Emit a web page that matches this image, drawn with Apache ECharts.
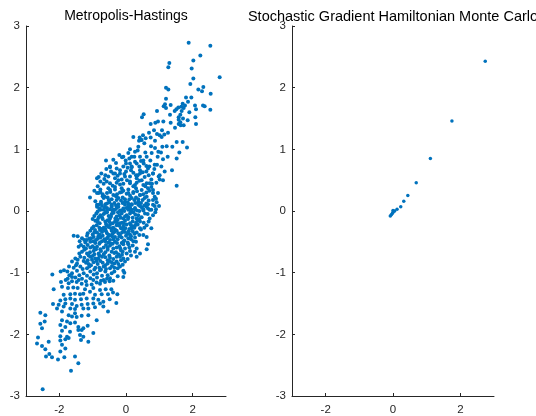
<!DOCTYPE html>
<html>
<head>
<meta charset="utf-8">
<script src="https://cdn.jsdelivr.net/npm/echarts@6/dist/echarts.min.js"></script>
<style>
  html, body { margin: 0; padding: 0; background: #fff; }
  #chart { width: 536px; height: 416px; }
</style>
</head>
<body>
<div id="chart"></div>
<script>
// Panel titles
const panelTitles = ['Metropolis-Hastings', 'Stochastic Gradient Hamiltonian Monte Carlo'];

// Axis ticks shared by both panels
const axisRange = [-3, 3];
const xTickValues = [-2, 0, 2];
const yTickStep = 1;

// Metropolis-Hastings samples [x, y]
const mhSamples = [
  // upper tail
  [1.88,2.73],[2.53,2.68],[2.23,2.52],[2.02,2.44],[1.30,2.40],[1.27,2.33],[1.97,2.31],[2.81,2.17],
  [2.02,2.15],[1.93,2.06],[1.20,2.00],[1.27,1.97],[2.32,2.01],[2.17,1.97],[2.28,1.94],[2.54,1.90],
  [1.80,1.84],[1.96,1.84],[1.20,1.82],[1.86,1.77],[1.70,1.74],[1.17,1.73],[1.13,1.70],[2.07,1.71],
  [2.31,1.71],[2.36,1.70],[1.77,1.71],[1.66,1.69],[1.34,1.72],[1.57,1.68],[1.73,1.67],[1.20,1.67],
  [1.51,1.65],[2.10,1.65],[2.53,1.64],[0.93,1.62],[1.67,1.62],[1.90,1.60],[1.46,1.62],[0.53,1.57],
  [1.32,1.56],[1.63,1.56],[0.48,1.52],[1.58,1.52],[2.08,1.52],[1.71,1.50],[0.96,1.45],[1.12,1.45],
  [0.88,1.43],[1.58,1.48],[1.63,1.44],[1.85,1.47],[1.34,1.43],[0.74,1.41],[1.58,1.41],[1.64,1.39],
  [1.73,1.39],[2.10,1.41],[1.47,1.35],[0.84,1.31],[1.08,1.31],[1.26,1.27],[0.69,1.27],[0.51,1.23],
  [0.93,1.25],[1.01,1.23],[1.15,1.24],[0.41,1.19],[0.59,1.18],[0.74,1.19],[1.07,1.20],[0.45,1.15],
  [0.39,1.14],[0.87,1.14],[1.52,1.12],[1.70,1.12],
  // upper body
  [1.83,1.03],[1.39,1.04],[1.60,0.95],[1.52,0.85],[1.25,0.88],[1.09,1.04],[0.97,0.96],[0.87,1.02],
  [0.77,0.94],[1.11,0.84],[1.38,0.66],[1.52,0.41],[1.16,0.64],[0.93,0.75],[1.06,0.72],[1.11,0.50],
  [0.98,0.56],[0.81,0.61],[0.66,0.69],[0.53,0.77],[0.42,0.88],[0.62,0.88],[0.37,1.04],[0.47,1.15],
  [0.22,1.20],[0.27,0.96],[0.17,0.88],[0.07,0.94],[-0.08,0.88],[-0.20,0.91],[0.00,0.77],[0.17,0.72],
  [0.32,0.77],[0.42,0.66],[0.30,0.58],[0.47,0.50],[0.62,0.45],[0.76,0.39],[-0.38,0.83],[-0.48,0.72],
  [-0.59,0.68],[-0.74,0.61],[-0.87,0.53],[-0.77,0.48],[-0.53,0.56],[-0.33,0.61],[-0.18,0.66],[-0.23,0.50],
  [-0.03,0.56],[0.12,0.48],[0.27,0.42],[-0.87,0.29],[-0.77,0.31],[-1.08,0.22],[-0.64,0.23],[-0.48,0.34],
  [-0.33,0.39],[-0.13,0.31],[0.07,0.29],[0.22,0.31],[0.42,0.26],[0.62,0.23],[0.81,0.18],[0.99,0.08],
  [-0.28,0.18],[-0.57,0.12],[-0.82,0.10],[-0.03,0.15],[0.17,0.10],[0.37,0.15],[0.66,0.11],[0.81,0.34],
  [0.96,0.29],[0.86,0.23],[-0.43,0.07],
  [-0.01,0.82],[0.12,0.77],[0.27,0.80],[0.52,0.82],[0.73,0.82],[-0.48,0.71],[-0.28,0.69],[-0.08,0.72],
  [0.17,0.71],[0.40,0.72],[0.61,0.73],[0.86,0.75],
  [-0.82,0.55],[-0.62,0.58],[-0.38,0.61],[-0.18,0.61],[0.00,0.64],[0.22,0.62],[0.42,0.61],[0.61,0.64],
  [0.81,0.61],[1.01,0.58],[-0.33,0.53],[-0.13,0.51],[0.12,0.56],[0.32,0.53],[0.56,0.55],[0.76,0.51],
  [1.01,0.51],
  [-0.67,0.44],[-0.48,0.45],[-0.28,0.46],[-0.08,0.44],[0.12,0.45],[0.32,0.46],[0.52,0.42],[0.71,0.45],
  [0.91,0.46],[-0.77,0.35],[-0.53,0.37],[-0.33,0.35],[-0.13,0.37],[0.07,0.35],[0.30,0.37],[0.47,0.34],
  [0.66,0.37],
  [-0.82,0.29],[-0.57,0.29],[-0.38,0.26],[-0.18,0.30],[0.02,0.28],[0.22,0.29],[0.42,0.26],[0.61,0.30],
  [0.81,0.29],[-0.67,0.21],[-0.43,0.19],[-0.23,0.21],[-0.03,0.19],[0.17,0.21],[0.37,0.19],[0.56,0.21],
  [-0.87,0.10],[-0.62,0.11],[-0.43,0.10],[-0.23,0.11],[-0.03,0.10],[0.17,0.11],[0.37,0.10],[0.61,0.12],
  [0.81,0.10],[-0.77,0.02],[-0.57,0.01],[-0.38,0.02],[-0.13,0.01],[0.07,0.02],[0.27,0.03],[0.52,0.01],
  [0.71,0.02],
  [-0.30,0.78],[-0.12,0.87],[0.05,0.70],[0.25,0.88],[0.45,0.81],[0.58,0.95],[0.75,1.05],[0.95,0.88],
  [0.35,0.98],[0.12,1.00],[0.55,1.10],[0.85,0.68],[1.05,0.95],[1.22,1.05],[0.70,0.72],[-0.60,0.82],
  [0.10,0.85],
  [-0.45,0.64],[-0.25,0.57],[-0.05,0.60],[0.15,0.66],[0.35,0.58],[0.50,0.63],[0.68,0.58],[-0.65,0.52],
  [-0.58,0.48],[-0.40,0.41],[-0.18,0.43],[0.03,0.50],[0.22,0.40],[0.40,0.49],[0.58,0.40],[0.78,0.44],
  [-0.85,0.40],[-0.95,0.33],[-0.70,0.27],[-0.47,0.31],[-0.27,0.27],[-0.08,0.33],[0.12,0.25],[0.33,0.32],
  [0.52,0.27],[0.70,0.33],[0.90,0.20],[-0.92,0.16],[-0.75,0.15],[-0.52,0.18],[-0.35,0.13],[-0.15,0.17],
  [0.05,0.14],[0.25,0.18],[0.45,0.13],[0.68,0.17],[0.92,0.14],
  [-0.70,0.24],[-0.55,0.22],[-0.30,0.24],[-0.10,0.22],[0.10,0.19],[0.30,0.22],[0.50,0.18],
  [-0.75,0.12],[-0.50,0.14],[-0.30,0.09],[-0.10,0.13],[0.08,0.11],[0.28,0.13],[0.55,0.09],
  // central body
  [-0.87,0.07],[-0.72,0.08],[-0.57,0.05],[-0.43,0.09],[-0.23,0.07],[-0.08,0.04],[0.07,0.08],[0.27,0.05],
  [0.42,0.08],[0.62,0.07],[0.86,0.08],[-0.67,0.02],[-0.33,0.02],[0.17,0.02],[0.52,0.03],[0.76,0.02],
  [-0.80,0.04],[-0.63,0.06],[-0.48,0.03],[-0.28,0.05],[-0.18,0.01],[0.02,0.05],[0.12,0.06],[0.33,0.01],
  [0.47,0.06],[0.66,0.04],[0.90,0.03],
  [-0.85,-0.01],[-0.62,-0.03],[-0.40,0.00],[-0.24,-0.02],[-0.05,0.00],[0.15,-0.01],[0.40,0.00],
  [-0.89,-0.04],[-0.77,-0.07],[-0.57,-0.02],[-0.43,-0.05],[-0.28,-0.09],[-0.13,-0.04],[0.02,-0.07],[0.22,-0.02],
  [0.37,-0.07],[0.57,-0.04],[0.81,-0.07],[-0.48,-0.12],[-0.08,-0.12],[0.32,-0.12],[0.71,-0.12],
  [-0.95,-0.08],[-0.82,-0.10],[-0.67,-0.05],[-0.52,-0.08],[-0.37,-0.03],[-0.20,-0.07],[-0.03,-0.09],[0.12,-0.04],
  [0.28,-0.06],[0.47,-0.10],[0.65,-0.05],[0.88,-0.02],
  [-0.72,-0.10],[-0.45,-0.09],[-0.32,-0.12],[-0.16,-0.11],[0.07,-0.10],[0.20,-0.11],[0.40,-0.13],
  [-0.92,-0.16],[-0.79,-0.20],[-0.62,-0.17],[-0.48,-0.22],[-0.33,-0.17],[-0.18,-0.20],[-0.03,-0.16],[0.12,-0.20],
  [0.27,-0.24],[0.42,-0.17],[0.62,-0.23],[0.76,-0.28],[-0.97,-0.25],[-0.67,-0.27],[-0.38,-0.27],[-0.08,-0.25],
  [0.17,-0.28],[0.42,-0.28],
  [-1.00,-0.13],[-0.85,-0.18],[-0.70,-0.13],[-0.55,-0.15],[-0.40,-0.20],[-0.25,-0.14],[-0.12,-0.19],[0.06,-0.13],
  [0.20,-0.17],[0.35,-0.15],[0.53,-0.19],[0.68,-0.17],
  [-0.85,-0.14],[-0.60,-0.21],[-0.50,-0.17],[-0.27,-0.19],[-0.07,-0.20],[0.15,-0.23],[0.30,-0.19],
  [-1.02,-0.28],[-0.88,-0.23],[-0.73,-0.29],[-0.58,-0.24],[-0.45,-0.28],[-0.28,-0.23],[-0.15,-0.28],[0.02,-0.22],
  [0.10,-0.29],[0.25,-0.27],[0.35,-0.22],[0.55,-0.27],
  [-0.80,-0.27],[-0.62,-0.29],[-0.52,-0.26],[-0.33,-0.30],[-0.20,-0.24],[-0.02,-0.28],[0.20,-0.25],
  [-1.07,-0.32],[-0.87,-0.35],[-0.72,-0.34],[-0.57,-0.36],[-0.43,-0.32],[-0.23,-0.36],[-0.03,-0.34],[0.12,-0.38],
  [0.32,-0.35],[0.52,-0.39],[-1.57,-0.40],[-1.45,-0.41],[-1.32,-0.44],[-1.17,-0.40],[-0.97,-0.42],[-0.77,-0.43],
  [-0.57,-0.44],[-0.33,-0.42],[-0.13,-0.43],[0.07,-0.44],[0.27,-0.43],[0.62,-0.42],
  [-1.15,-0.36],[-1.00,-0.38],[-0.93,-0.31],[-0.80,-0.38],[-0.65,-0.31],[-0.50,-0.39],[-0.35,-0.34],[-0.18,-0.39],
  [-0.08,-0.31],[0.05,-0.37],[0.20,-0.33],[0.40,-0.39],[0.45,-0.30],
  [-0.95,-0.35],[-0.78,-0.31],[-0.60,-0.33],[-0.40,-0.37],[-0.28,-0.32],[-0.12,-0.35],[0.08,-0.33],[0.25,-0.37],
  [-1.39,-0.49],[-1.22,-0.51],[-1.07,-0.50],[-0.92,-0.52],[-0.72,-0.49],[-0.53,-0.51],[-0.33,-0.50],[-0.13,-0.52],
  [0.07,-0.54],[0.22,-0.49],[0.66,-0.54],[-1.42,-0.58],[-1.27,-0.58],[-1.07,-0.59],[-0.87,-0.58],[-0.67,-0.59],
  [-0.48,-0.56],[-0.28,-0.59],[-0.03,-0.61],[0.32,-0.61],[0.62,-0.62],
  [-1.25,-0.47],[-1.10,-0.45],[-0.90,-0.47],[-0.83,-0.41],[-0.65,-0.46],[-0.48,-0.47],[-0.42,-0.41],[-0.25,-0.46],
  [-0.05,-0.48],[0.15,-0.46],[0.30,-0.50],
  [-1.05,-0.44],[-0.85,-0.45],[-0.70,-0.40],[-0.53,-0.41],[-0.38,-0.46],[-0.20,-0.41],[0.00,-0.40],[0.15,-0.41],
  [-1.18,-0.47],[-0.98,-0.49],[-0.78,-0.51],[-0.62,-0.49],[-0.45,-0.53],[-0.27,-0.52],[-0.08,-0.50],[0.05,-0.51],
  [-1.35,-0.55],[-1.15,-0.55],[-1.00,-0.57],[-0.80,-0.53],[-0.60,-0.55],[-0.40,-0.53],[-0.20,-0.57],[-0.08,-0.54],
  [0.10,-0.59],[0.20,-0.56],
  [-1.20,-0.61],[-0.95,-0.60],[-0.77,-0.62],[-0.55,-0.59],[-0.38,-0.61],[-0.17,-0.61],[-0.10,-0.66],
  [-1.32,-0.66],[-1.17,-0.69],[-0.97,-0.65],[-0.82,-0.69],[-0.62,-0.67],[-0.43,-0.66],[-0.23,-0.70],[0.02,-0.69],
  [0.27,-0.66],[0.42,-0.69],[-1.52,-0.77],[-1.37,-0.74],[-1.07,-0.74],[-0.92,-0.77],[-0.72,-0.74],[-0.48,-0.76],
  [-0.28,-0.74],[-0.08,-0.77],[0.32,-0.74],
  [-1.40,-0.69],[-1.25,-0.63],[-1.08,-0.67],[-0.90,-0.62],[-0.75,-0.65],[-0.55,-0.63],[-0.35,-0.68],[-0.15,-0.64],
  [0.12,-0.65],
  [-1.12,-0.72],[-0.95,-0.70],[-0.80,-0.72],[-0.67,-0.70],[-0.50,-0.72],[-0.30,-0.67],[-0.12,-0.71],
  [-1.45,-0.79],[-1.25,-0.76],[-1.15,-0.80],[-1.00,-0.73],[-0.83,-0.77],[-0.62,-0.75],[-0.55,-0.80],[-0.38,-0.78],
  [-0.18,-0.74],[0.05,-0.78],[0.15,-0.72],
  [-1.20,-0.84],[-1.02,-0.79],[-0.88,-0.81],[-0.70,-0.84],[-0.50,-0.81],[-0.35,-0.85],[-0.15,-0.80],
  [-1.62,-0.82],[-1.47,-0.85],[-1.27,-0.81],[-1.12,-0.86],[-0.97,-0.83],[-0.77,-0.81],[-0.62,-0.88],[-0.43,-0.83],
  [-0.23,-0.86],[-0.03,-0.82],[-1.71,-0.90],[-1.57,-0.92],[-1.37,-0.90],[-1.17,-0.93],[-0.92,-0.92],[-0.67,-0.90],
  [-0.48,-0.93],[-0.18,-0.90],
  [-1.50,-0.88],[-1.30,-0.94],[-1.05,-0.88],[-0.85,-0.86],[-0.75,-0.95],[-0.55,-0.85],[-0.35,-0.92],[-0.10,-0.87],
  [-0.28,-0.82],
  [-1.10,-0.90],[-0.95,-0.95],[-0.80,-0.92],[-0.60,-0.94],[-0.42,-0.89],[-0.25,-0.93],
  [-2.21,-1.03],[-1.96,-0.98],[-1.86,-0.96],[-1.76,-0.98],[-1.62,-1.01],[-1.47,-0.97],[-1.27,-1.01],[-1.07,-0.98],
  [-0.87,-1.01],[-0.62,-0.98],[-0.43,-1.01],[-0.08,-0.97],[-1.81,-1.12],[-1.62,-1.07],[-1.52,-1.08],[-1.32,-1.10],
  [-1.07,-1.09],[-0.87,-1.08],[-0.67,-1.12],[-0.48,-1.09],[-0.08,-1.07],
  [-1.70,-1.04],[-1.40,-1.04],[-1.17,-1.05],[-0.97,-1.03],[-0.78,-0.96],[-0.72,-1.05],[-0.55,-1.04],[-0.35,-0.98],
  [-0.25,-1.06],[-0.05,-1.00],
  [-1.95,-1.15],[-1.75,-1.10],[-1.42,-1.12],[-1.20,-1.14],[-0.98,-1.12],[-0.78,-1.18],[-0.57,-1.10],[-0.38,-1.13],
  // lower tail
  [-2.17,-1.27],[-1.92,-1.23],[-1.72,-1.17],[-1.62,-1.14],[-1.48,-1.15],[-1.33,-1.18],[-1.18,-1.20],[-1.03,-1.19],
  [-0.88,-1.16],[-0.63,-1.15],[-0.49,-1.14],[-0.75,-1.13],[-1.74,-1.25],[-1.58,-1.24],[-1.45,-1.25],[-1.23,-1.27],
  [-0.98,-1.25],[-0.78,-1.28],[-0.61,-1.27],[-0.44,-1.27],[-1.87,-1.36],[-1.67,-1.35],[-1.53,-1.34],[-1.38,-1.35],
  [-1.28,-1.34],[-1.08,-1.31],[-0.93,-1.36],[-0.73,-1.35],[-0.54,-1.35],[-0.39,-1.32],[-0.26,-1.35],[-1.97,-1.45],
  [-1.82,-1.43],[-1.67,-1.42],[-1.53,-1.44],[-1.35,-1.43],[-1.18,-1.42],[-0.98,-1.42],[-0.83,-1.44],[-0.68,-1.47],
  [-0.49,-1.43],[-2.19,-1.51],[-2.02,-1.52],[-1.82,-1.50],[-1.62,-1.51],[-1.48,-1.54],[-1.33,-1.52],[-1.15,-1.51],
  [-0.98,-1.50],[-0.78,-1.50],[-2.07,-1.58],[-1.87,-1.55],[-1.67,-1.58],[-1.53,-1.59],[-1.28,-1.58],[-1.13,-1.58],
  [-0.93,-1.56],[-0.68,-1.55],[-0.29,-1.49],[-2.57,-1.65],[-2.42,-1.69],[-1.92,-1.63],[-1.72,-1.69],[-1.53,-1.66],
  [-1.33,-1.70],[-1.13,-1.69],[-0.54,-1.63],[-2.44,-1.79],[-2.57,-1.83],[-1.92,-1.77],[-1.77,-1.79],[-1.62,-1.71],
  [-1.48,-1.72],[-0.88,-1.77],[-2.52,-1.90],[-1.97,-1.85],[-1.82,-1.88],[-1.67,-1.82],[-1.53,-1.81],[-1.43,-1.88],
  [-1.28,-1.90],[-1.15,-1.86],[-1.92,-1.94],[-1.68,-1.96],[-1.43,-1.93],[-1.33,-1.93],[-0.98,-1.98],[-2.64,-2.05],
  [-1.97,-2.03],[-1.77,-2.04],[-1.38,-2.01],[-1.28,-2.04],[-2.67,-2.15],[-2.32,-2.12],[-1.97,-2.10],[-1.82,-2.08],
  [-1.72,-2.06],[-1.35,-2.09],[-1.13,-2.12],[-2.52,-2.19],[-2.42,-2.24],[-1.92,-2.17],[-1.82,-2.23],[-1.97,-2.28],
  [-2.30,-2.32],[-2.22,-2.37],[-2.40,-2.36],[-2.04,-2.41],[-1.85,-2.37],[-1.53,-2.36],[-1.43,-2.47],[-1.65,-2.59],
  [-2.50,-2.89]
];

// Stochastic Gradient HMC samples [x, y]
const sghmcSamples = [
  [2.74,2.43],[1.75,1.46],[1.11,0.85],[0.69,0.46],[0.44,0.25],[0.32,0.16],[0.23,0.07],[0.12,0.03],
  [0.05,0.00],[0.00,0.01],[0.00,-0.02],[-0.02,-0.04],[-0.05,-0.06],[-0.08,-0.08]
];

const FONT = '"Liberation Sans", Arial, Helvetica, sans-serif';
const AXIS_COLOR = '#262626';
const DOT_COLOR = '#0072BD';

function makeXAxis(gridIndex) {
  return {
    gridIndex, type: 'value', min: axisRange[0], max: axisRange[1],
    axisLine: { show: true, onZero: false, lineStyle: { color: AXIS_COLOR, width: 1 } },
    axisTick: { show: true, inside: true, length: 3, customValues: xTickValues, lineStyle: { color: AXIS_COLOR } },
    axisLabel: { customValues: xTickValues, color: AXIS_COLOR, fontSize: 11.5, fontFamily: FONT, margin: 8 },
    splitLine: { show: false }
  };
}
function makeYAxis(gridIndex) {
  return {
    gridIndex, type: 'value', min: axisRange[0], max: axisRange[1], interval: yTickStep,
    axisLine: { show: true, onZero: false, lineStyle: { color: AXIS_COLOR, width: 1 } },
    axisTick: { show: true, inside: true, length: 3, lineStyle: { color: AXIS_COLOR } },
    axisLabel: { color: AXIS_COLOR, fontSize: 11.5, fontFamily: FONT, margin: 6 },
    splitLine: { show: false }
  };
}

const chart = echarts.init(document.getElementById('chart'), null, { renderer: 'canvas' });
chart.setOption({
  animation: false,
  backgroundColor: '#ffffff',
  title: [
    { text: panelTitles[0], left: 126, top: 9, padding: 0, textAlign: 'center',
      textStyle: { fontSize: 14, fontWeight: 'normal', color: '#000', fontFamily: FONT } },
    { text: panelTitles[1], left: 393, top: 9, padding: 0, textAlign: 'center',
      textStyle: { fontSize: 14.5, fontWeight: 'normal', color: '#000', fontFamily: FONT } }
  ],
  grid: [
    { left: 26, top: 26, width: 200, height: 370 },
    { left: 292, top: 26, width: 202, height: 370 }
  ],
  xAxis: [makeXAxis(0), makeXAxis(1)],
  yAxis: [makeYAxis(0), makeYAxis(1)],
  series: [
    { type: 'scatter', xAxisIndex: 0, yAxisIndex: 0, data: mhSamples,
      symbol: 'circle', symbolSize: 4, itemStyle: { color: DOT_COLOR, opacity: 1 } },
    { type: 'scatter', xAxisIndex: 1, yAxisIndex: 1, data: sghmcSamples,
      symbol: 'circle', symbolSize: 3.5, itemStyle: { color: DOT_COLOR, opacity: 1 } }
  ]
});
</script>
</body>
</html>
